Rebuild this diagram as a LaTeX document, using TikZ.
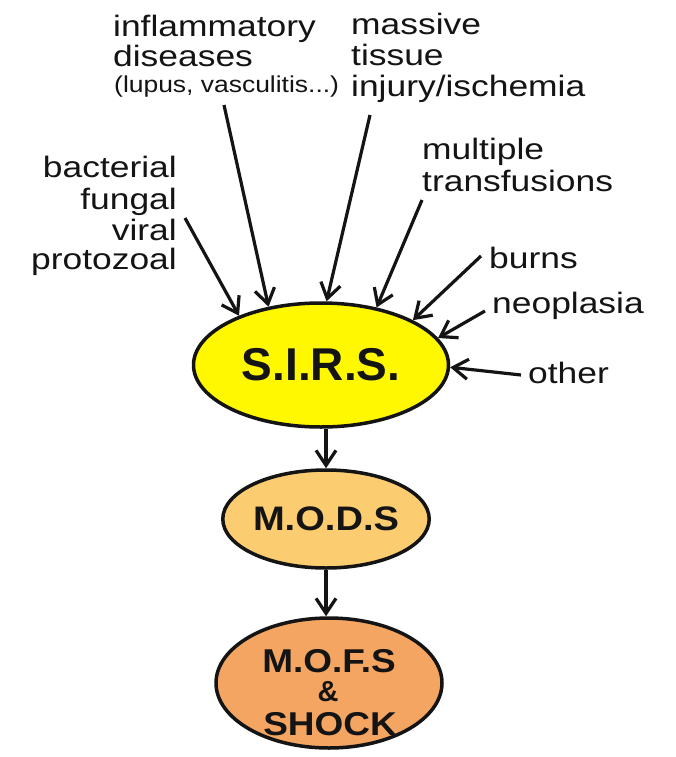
\documentclass[tikz,border=0pt]{standalone}
\usepackage{fontspec}
\setmainfont{Liberation Sans}
\newfontfamily\labfont[FakeStretch=1.2]{Liberation Sans}
\newfontfamily\labsmallfont[FakeStretch=1.15]{Liberation Sans}
\newfontfamily\boxfont{Liberation Sans}
\newfontfamily\boxwidefont[FakeStretch=1.12]{Liberation Sans}
\usetikzlibrary{shapes.geometric,arrows.meta}
\definecolor{ink}{RGB}{20,20,20}
\definecolor{sirsfill}{RGB}{255,248,0}
\definecolor{modsfill}{RGB}{251,204,112}
\definecolor{mofsfill}{RGB}{245,165,98}
\begin{document}
\begin{tikzpicture}[x=1pt,y=-1pt,
  lab/.style={inner sep=0pt, text=ink, font=\labfont\fontsize{29.5}{31}\selectfont},
  labsmall/.style={inner sep=0pt, text=ink, font=\labsmallfont\fontsize{23}{25}\selectfont},
  stage/.style={ellipse, draw=ink, line width=3.5pt, inner sep=0pt, text=ink},
  stagetext/.style={inner sep=0pt, anchor=base, text=ink},
  arr/.style={draw=ink, line width=3.2pt, -{Straight Barb[length=15pt,width=20pt,line width=3.2pt]}}]
\fill[white] (0,0) rectangle (675,757);
\useasboundingbox (0,0) rectangle (675,757);

% stages
\node[stage, fill=sirsfill, minimum width=255pt, minimum height=124pt,
      font=\boxfont\bfseries\fontsize{46}{50}\selectfont] (sirs) at (321,365) {S.I.R.S.};
\node[stage, fill=modsfill, minimum width=205pt, minimum height=98pt,
      font=\boxwidefont\bfseries\fontsize{34}{38}\selectfont] (mods) at (326,519) {M.O.D.S};
\node[stage, fill=mofsfill, minimum width=226pt, minimum height=130pt] (mofs) at (329,683) {};
\node[stagetext, font=\boxwidefont\bfseries\fontsize{33}{36}\selectfont] (mofsA) at (329,672) {M.O.F.S};
\node[stagetext, font=\boxfont\bfseries\fontsize{29}{30}\selectfont] (mofsB) at (328,701) {\&};
\node[stagetext, font=\boxwidefont\bfseries\fontsize{33}{36}\selectfont] (mofsC) at (330,735) {SHOCK};

% labels
\node[lab, anchor=base west] (infl1) at (113,37) {inflammatory};
\node[lab, anchor=base west] (infl2) at (113,67) {diseases};
\node[labsmall, anchor=base west] (infl3) at (114,93) {(lupus, vasculitis...)};
\node[lab, anchor=base west] (mass1) at (351,35) {massive};
\node[lab, anchor=base west] (mass2) at (351,66) {tissue};
\node[lab, anchor=base west] (mass3) at (351,97) {injury/ischemia};
\node[lab, anchor=base east] (bact1) at (177,177) {bacterial};
\node[lab, anchor=base east] (bact2) at (177,209) {fungal};
\node[lab, anchor=base east] (bact3) at (177,240) {viral};
\node[lab, anchor=base east] (bact4) at (177,269) {protozoal};
\node[lab, anchor=base west] (trans1) at (422,159) {multiple};
\node[lab, anchor=base west] (trans2) at (422,191) {transfusions};
\node[lab, anchor=base west] (burns) at (489,268) {burns};
\node[lab, anchor=base west] (neo) at (492,313) {neoplasia};
\node[lab, anchor=base west] (other) at (528,383) {other};

% arrow start points
\coordinate (sBact) at (185,218);
\coordinate (sInfl) at (224,105);
\coordinate (sMass) at (370,115);
\coordinate (sTrans) at (422,200);
\coordinate (sBurns) at (481,256);
\coordinate (sNeo) at (485,311);
\coordinate (sOther) at (521,375);

% arrows into S.I.R.S.
\draw[arr] (sBact) -- (sirs.149);
\draw[arr] (sInfl) -- (sirs.132);
\draw[arr] (sMass) -- (sirs.85);
\draw[arr] (sTrans) -- (sirs.46);
\draw[arr] (sBurns) -- (sirs.26);
\draw[arr] (sNeo) -- (sirs.13.5);
\draw[arr] (sOther) -- (sirs.-1.5);

% cascade
\draw[arr] (sirs.south -| mods.north) -- (mods.north);
\draw[arr] (mods.south) -- (mods.south |- mofs.north);
\end{tikzpicture}
\end{document}
